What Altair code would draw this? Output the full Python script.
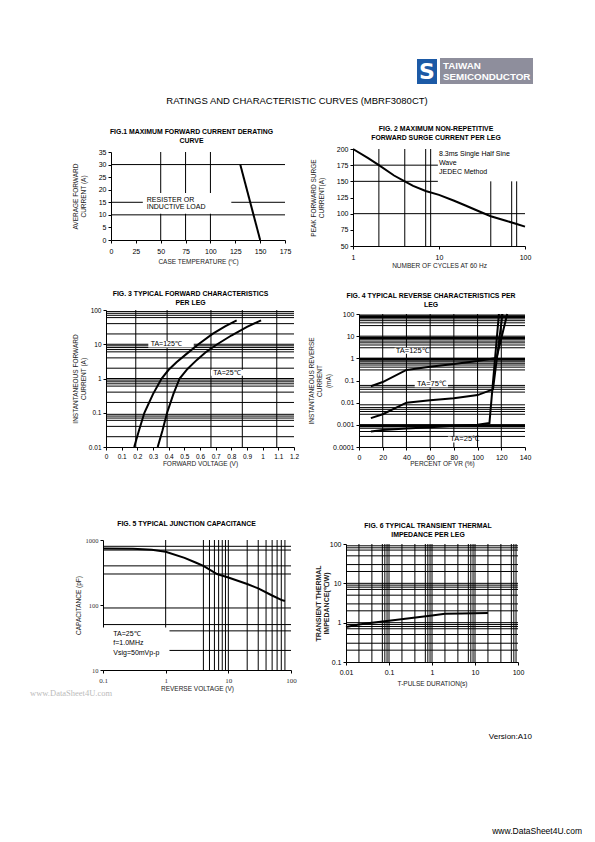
import altair as alt
import pandas as pd

SANS = "Liberation Sans"
SERIF = "Liberation Serif"

# ---------------- Fig.1 data ----------------
f1_temp = [130, 150]
f1_curr = [30, 0]
f1_xticks = [0, 25, 50, 75, 100, 125, 150, 175]
f1_yticks = [0, 5, 10, 15, 20, 25, 30, 35]
f1_grid_x = [50, 75, 100]
f1_grid_y = [30, 15, 10]
f1_note = ["RESISTER OR", "INDUCTIVE LOAD"]
f1_note_y = [15.9, 13.1]

# ---------------- Fig.2 data ----------------
f2_cycles = [1, 1.5, 2, 3, 4, 5, 7, 10, 15, 20, 30, 40, 60, 80, 100]
f2_surge = [200, 186, 175, 159, 150, 143, 135, 129, 120, 113, 103, 96, 89, 84, 80]
f2_xticks = [1, 10, 100]
f2_yticks = [50, 75, 100, 125, 150, 175, 200]
f2_grid_x_full = [2, 4, 7, 8]
f2_grid_x_low = [40, 70, 80]
f2_grid_y_left = [175, 150]
f2_grid_y_full = [100]
f2_note = ["8.3ms Single Half Sine", "Wave", "JEDEC Method"]
f2_note_y = [192, 179, 164]

# ---------------- Fig.3 data ----------------
f3_v125 = [0.18, 0.21, 0.245, 0.30, 0.355, 0.40, 0.45, 0.52, 0.59, 0.68, 0.76, 0.834]
f3_i125 = [0.01, 0.03, 0.1, 0.35, 1, 1.8, 3, 5.5, 10, 20, 33, 50]
f3_v25 = [0.33, 0.36, 0.39, 0.43, 0.47, 0.52, 0.58, 0.64, 0.71, 0.80, 0.90, 0.99]
f3_i25 = [0.01, 0.03, 0.1, 0.35, 1, 1.9, 3.5, 6, 10, 18, 32, 50]
f3_xticks = [0, 0.1, 0.2, 0.3, 0.4, 0.5, 0.6, 0.7, 0.8, 0.9, 1, 1.1, 1.2]
f3_yticks = [0.01, 0.1, 1, 10, 100]
f3_grid_x = [0.19, 0.39, 0.67, 0.87, 1.09]
f3_grid_y = [0.02, 0.04, 0.06, 0.07, 0.08, 0.09, 0.2, 0.4, 0.6, 0.7, 0.8, 0.9,
             2, 4, 6, 7, 8, 9, 20, 40, 60, 70, 80, 90]
f3_labels = ["TA=125\u2103", "TA=25\u2103"]

# ---------------- Fig.4 data ----------------
f4_p125 = [10, 20, 40, 60, 80, 100, 116, 125]
f4_i125 = [0.055, 0.085, 0.3, 0.42, 0.55, 0.75, 1.05, 100]
f4_p75 = [10, 20, 40, 60, 80, 100, 113, 121]
f4_i75 = [0.002, 0.003, 0.01, 0.013, 0.016, 0.022, 0.04, 100]
f4_p25 = [10, 20, 40, 60, 80, 100, 110, 118]
f4_i25 = [0.0005, 0.00058, 0.00068, 0.00078, 0.0009, 0.001, 0.0012, 100]
f4_xticks = [0, 20, 40, 60, 80, 100, 120, 140]
f4_yticks = [0.0001, 0.001, 0.01, 0.1, 1, 10, 100]
f4_grid_x = [20, 40, 60, 80, 100, 120]
f4_grid_y = [0.0003, 0.0005, 0.0007, 0.003, 0.004, 0.005, 0.006, 0.008,
             0.03, 0.04, 0.05, 0.06, 0.3, 0.4, 0.5, 0.6, 0.7, 3, 4, 5, 6, 30, 40, 50, 60, 90]
f4_grid_y_thick = [0.0009, 0.9, 8, 75]
f4_labels = ["TA=125\u2103", "TA=75\u2103", "TA=25\u2103"]

# ---------------- Fig.5 data ----------------
f5_v = [0.1, 0.3, 0.6, 1, 2, 3, 4, 6.6, 10, 20, 30, 50, 70, 80]
f5_c = [740, 735, 705, 660, 530, 450, 400, 300, 265, 210, 180, 140, 120, 115]
f5_xticks = [0.1, 1, 10, 100]
f5_yticks = [10, 100, 1000]
f5_grid_x = [1, 4, 5, 6, 7, 8, 9, 10, 20, 30, 40, 50, 60, 70, 80]
f5_grid_y = [800, 700, 400, 300, 90, 50, 40, 20]
f5_note = ["TA=25\u2103", "f=1.0MHz", "Vsig=50mVp-p"]
f5_note_y = [36, 26, 18.5]

# ---------------- Fig.6 data ----------------
f6_t = [0.01, 0.02, 0.04, 0.1, 0.3, 1, 2, 5, 10, 20]
f6_z = [0.78, 0.9, 1.0, 1.12, 1.3, 1.52, 1.68, 1.72, 1.73, 1.75]
f6_xticks = [0.01, 0.1, 1, 10, 100]
f6_yticks = [0.1, 1, 10, 100]
f6_grid_x = [0.02, 0.04, 0.07, 0.08, 0.09, 0.1, 0.2, 0.4, 0.7, 0.8, 0.9, 1,
             2, 4, 7, 8, 9, 10, 20, 40, 70, 80, 90]
f6_grid_y = [0.2, 0.3, 0.5, 0.7, 0.8, 0.9, 2, 3, 5, 7, 8, 9, 20, 30, 50, 70, 80, 90]


def axis(title, values, tx=None, ty=None, off=0, lfont=SANS, lsize=7, tsize=6.5,
         tweight="normal", lpad=2, lcolor="black"):
    kw = dict(title=title, values=values, labelExpr="'' + datum.value", labelFont=lfont,
              labelFontSize=lsize, labelColor=lcolor, labelPadding=lpad,
              labelFlush=False, labelOverlap=False, titleFont=SANS,
              titleFontSize=tsize, titleFontWeight=tweight, titleColor="#222",
              titleLineHeight=8.3, tickSize=3, tickColor="black", tickWidth=1,
              domainColor="black", domainWidth=1, grid=False, offset=off)
    if tx is not None:
        kw["titleX"] = tx
    if ty is not None:
        kw["titleY"] = ty
    return alt.Axis(**kw)


class Panel:
    def __init__(self, xdom, ydom, xrange, yrange, xa, ya, xlog=False, ylog=False):
        xk = dict(domain=xdom, range=xrange, nice=False)
        yk = dict(domain=ydom, range=yrange, nice=False)
        self.xs = alt.Scale(type="log", **xk) if xlog else alt.Scale(zero=False, **xk)
        self.ys = alt.Scale(type="log", **yk) if ylog else alt.Scale(zero=False, **yk)
        self.xdom, self.ydom = xdom, ydom
        self.xa, self.ya = xa, ya
        self.layers = []

    def X(self, f="x"):
        return alt.X(f"{f}:Q", scale=self.xs, axis=self.xa)

    def Y(self, f="y"):
        return alt.Y(f"{f}:Q", scale=self.ys, axis=self.ya)

    def vrules(self, vals, width=1, y0=None, y1=None):
        df = pd.DataFrame({"x": vals})
        df["y"] = self.ydom[0] if y0 is None else y0
        df["y2"] = self.ydom[1] if y1 is None else y1
        self.layers.append(alt.Chart(df).mark_rule(color="black", strokeWidth=width).encode(
            x=self.X(), y=self.Y(), y2=alt.Y2("y2:Q")))

    def hrules(self, vals, width=1, x0=None, x1=None):
        df = pd.DataFrame({"y": vals})
        df["x"] = self.xdom[0] if x0 is None else x0
        df["x2"] = self.xdom[1] if x1 is None else x1
        self.layers.append(alt.Chart(df).mark_rule(color="black", strokeWidth=width).encode(
            y=self.Y(), x=self.X(), x2=alt.X2("x2:Q")))

    def box(self, x0, x1, y0, y1):
        df = pd.DataFrame({"x": [x0], "x2": [x1], "y": [y0], "y2": [y1]})
        self.layers.append(alt.Chart(df).mark_rect(color="white").encode(
            x=self.X(), x2=alt.X2("x2:Q"), y=self.Y(), y2=alt.Y2("y2:Q")))

    def line(self, xv, yv, width=2):
        df = pd.DataFrame({"x": xv, "y": yv})
        self.layers.append(alt.Chart(df).mark_line(color="black", strokeWidth=width).encode(
            x=self.X(), y=self.Y()))

    def text(self, xv, yv, tv, size=7):
        df = pd.DataFrame({"x": xv, "y": yv, "t": tv})
        self.layers.append(alt.Chart(df).mark_text(align="left", baseline="middle", fontSize=size,
                                                   font=SANS, color="black").encode(
            x=self.X(), y=self.Y(), text="t:N"))

    def build(self, w, h, title, off, dx):
        t = alt.TitleParams(text=title, fontSize=6.9, font=SANS, fontWeight="bold",
                            color="black", offset=off, dx=dx, lineHeight=9,
                            anchor="middle", frame="group")
        return alt.layer(*self.layers).properties(width=w, height=h, title=t)


def spacer(w=1, h=1):
    return alt.Chart(pd.DataFrame({"s": [0]})).mark_point(opacity=0, size=1).encode(
        x=alt.value(w / 2), y=alt.value(h / 2)).properties(width=w, height=h)


# ---------------- Fig.1 ----------------
p1 = Panel([0, 175], [0, 35], [8, 182], [91, 3],
           axis("CASE TEMPERATURE (\u2103)", f1_xticks, ty=18.5, lpad=4.5),
           axis(["AVERAGE FORWARD", "CURRENT (A)"], f1_yticks, tx=-33, off=-8))
p1.vrules(f1_grid_x)
p1.hrules(f1_grid_y)
p1.box(32, 121, 10.4, 18.7)
p1.line(f1_temp, f1_curr)
p1.text([36, 36], f1_note_y, f1_note)
fig1 = p1.build(182, 91, ["FIG.1 MAXIMUM FORWARD CURRENT DERATING", "CURVE"], 3.5, -2.5)

# ---------------- Fig.2 ----------------
p2 = Panel([1, 100], [50, 200], [7, 179], [97, 0],
           axis("NUMBER OF CYCLES AT 60 Hz", f2_xticks, ty=16, lpad=4.5),
           axis(["PEAK FORWARD SURGE", "CURRENT(A)"], f2_yticks, tx=-37, off=-7),
           xlog=True)
p2.vrules(f2_grid_x_full)
p2.vrules(f2_grid_x_low, y0=50, y1=150)
p2.hrules(f2_grid_y_left, x0=1, x1=9.7)
p2.hrules(f2_grid_y_full)
p2.line(f2_cycles, f2_surge)
p2.text([10, 10, 10], f2_note_y, f2_note)
fig2 = p2.build(179, 97, ["FIG. 2 MAXIMUM NON-REPETITIVE", "FORWARD SURGE CURRENT PER LEG"], 3, 0.5)

# ---------------- Fig.3 ----------------
p3 = Panel([0, 1.2], [0.01, 100], [3, 191], [137, 0],
           axis("FORWARD VOLTAGE (V)", f3_xticks, ty=13.5, lpad=3.5, lsize=6.5),
           axis(["INSTANTANEOUS FORWARD", "CURRENT (A)"], f3_yticks, tx=-27.5, off=-3, lsize=6.5),
           ylog=True)
p3.vrules(f3_grid_x)
p3.hrules(f3_grid_y)
p3.hrules([1, 10])
p3.box(0.27, 0.56, 8, 12.5)
p3.box(0.67, 0.9, 1.2, 1.8)
p3.line(f3_v125, f3_i125)
p3.line(f3_v25, f3_i25)
p3.text([0.285, 0.685], [10, 1.47], f3_labels)
fig3 = p3.build(191, 137, ["FIG. 3 TYPICAL FORWARD CHARACTERISTICS", "PER LEG"], 0.5, -8)

# ---------------- Fig.4 ----------------
p4 = Panel([0, 140], [0.0001, 100], [13, 179], [137, 4],
           axis("PERCENT OF VR (%)", f4_xticks, ty=13.5, lpad=3.5),
           axis(["INSTANTANEOUS REVERSE", "CURRENT", "(mA)"], f4_yticks, tx=-44.5, off=-13),
           ylog=True)
p4.vrules(f4_grid_x)
p4.hrules(f4_grid_y)
p4.hrules(f4_grid_y_thick, width=3)
p4.hrules([1, 0.001, 10])
p4.box(30, 59, 1.6, 3.0)
p4.box(47, 75, 0.05, 0.1)
p4.box(75, 98, 0.00016, 0.0003)
p4.line(f4_p125, f4_i125)
p4.line(f4_p75, f4_i75)
p4.line(f4_p25, f4_i25)
p4.text([31, 49, 77], [2.2, 0.07, 0.00022], f4_labels, size=7.5)
fig4 = p4.build(179, 137, ["FIG. 4 TYPICAL REVERSE CHARACTERISTICS PER", "LEG"], 1.5, -4.5)

# ---------------- Fig.5 ----------------
p5 = Panel([0.1, 100], [10, 1000], [0, 188], [130, 0],
           axis("REVERSE VOLTAGE (V)", f5_xticks, ty=15.5, lpad=3.5, lfont=SERIF, lcolor="#333"),
           axis("CAPACITANCE (pF)", f5_yticks, tx=-22, lfont=SERIF, lsize=6.5, lcolor="#333"),
           xlog=True, ylog=True)
p5.vrules(f5_grid_x)
p5.hrules(f5_grid_y)
p5.box(0.1, 1.15, 10, 45)
p5.line(f5_v, f5_c)
p5.text([0.146, 0.146, 0.146], f5_note_y, f5_note)
fig5 = p5.build(188, 130, "FIG. 5 TYPICAL JUNCTION CAPACITANCE", 9.5, -10.5)

# ---------------- Fig.6 ----------------
p6 = Panel([0.01, 100], [0.1, 100], [0, 172], [122, 4],
           axis("T-PULSE DURATION(s)", f6_xticks, ty=18.5, lpad=3),
           axis(["TRANSIENT THERMAL", "IMPEDANCE(\u2103/W)"], f6_yticks, tx=-25,
                tsize=7, tweight="bold"),
           xlog=True, ylog=True)
p6.vrules(f6_grid_x)
p6.hrules(f6_grid_y)
p6.hrules([1, 10])
p6.line(f6_t, f6_z)
fig6 = p6.build(172, 122, ["FIG. 6 TYPICAL TRANSIENT THERMAL", "IMPEDANCE PER LEG"], 1, -4)

# ---------------- header / footer ----------------
one = pd.DataFrame({"s": [0]})
hb = alt.Chart(one)
header = alt.layer(
    hb.mark_rect(color="#1c5aa6").encode(x=alt.value(409), x2=alt.value(429),
                                          y=alt.value(51), y2=alt.value(76)),
    hb.mark_text(text="S", color="white", font="DejaVu Sans", fontWeight="bold",
                 fontSize=22, align="center", baseline="middle").encode(
        x=alt.value(419), y=alt.value(64)),
    hb.mark_rect(color="#8e8e9c").encode(x=alt.value(432), x2=alt.value(525),
                                          y=alt.value(50), y2=alt.value(76)),
    hb.mark_text(text="TAIWAN", color="white", font=SANS, fontWeight="bold",
                 fontSize=9.8, align="left", baseline="middle").encode(
        x=alt.value(435), y=alt.value(58)),
    hb.mark_text(text="SEMICONDUCTOR", color="white", font=SANS, fontWeight="bold",
                 fontSize=9.8, align="left", baseline="middle").encode(
        x=alt.value(435), y=alt.value(69)),
    hb.mark_text(text="RATINGS AND CHARACTERISTIC CURVES (MBRF3080CT)", color="black",
                 font=SANS, fontSize=9.5, align="center", baseline="middle").encode(
        x=alt.value(289), y=alt.value(93)),
).properties(width=95, height=141)

footer = alt.layer(
    hb.mark_text(text="www.DataSheet4U.com", color="#bbbbbb", font=SERIF, fontSize=8.5,
                 align="left", baseline="middle").encode(x=alt.value(22), y=alt.value(23)),
    hb.mark_text(text="Version:A10", color="black", font=SANS, fontSize=8,
                 align="right", baseline="middle").encode(x=alt.value(524), y=alt.value(67)),
    hb.mark_text(text="www.DataSheet4U.com", color="black", font=SANS, fontSize=8.5,
                 align="right", baseline="middle").encode(x=alt.value(574), y=alt.value(161)),
).properties(width=95, height=160)

cells = [
    header, spacer(), spacer(), spacer(),
    spacer(95, 1), fig1, spacer(52, 1), fig2,
    spacer(1, 64), spacer(), spacer(), spacer(),
    spacer(), fig3, spacer(), fig4,
    spacer(1, 93), spacer(), spacer(), spacer(),
    spacer(), fig5, spacer(), fig6,
    footer, spacer(), spacer(), spacer(),
]

chart = alt.concat(*cells, columns=4, spacing=0, bounds="flush", align="each").properties(
    padding=0).configure(font=SANS).configure_view(stroke="transparent", strokeWidth=0)

chart.save("out.html", embed_options={"renderer": "svg", "actions": False})
